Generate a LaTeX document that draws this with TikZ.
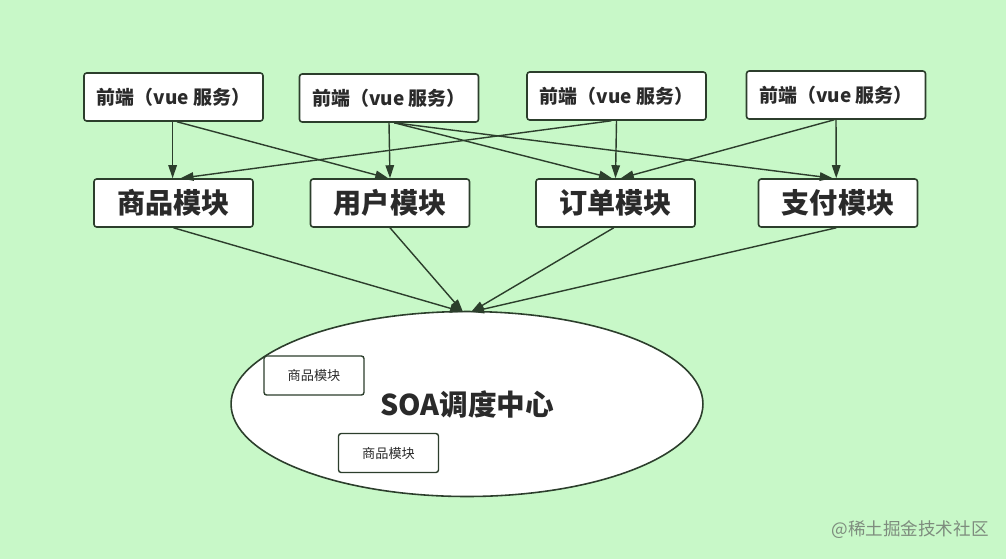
\documentclass[tikz,border=0pt]{standalone}
\usepackage{fontspec}
\setmainfont{Noto Sans CJK SC}
\usepackage{tikz}
\usetikzlibrary{positioning,arrows.meta,calc,shapes.geometric}

\definecolor{bg_green}{HTML}{C8F8C8}
\definecolor{line_dark}{HTML}{2C3E2C}
\definecolor{text_dark}{HTML}{2A2A2A}
\definecolor{mark_gray}{HTML}{7E8C7E}

\begin{document}
\begin{tikzpicture}[x=0.02cm, y=-0.02cm,
		front_box/.style={draw=line_dark, line width=0.9pt, fill=white, rounded corners=1.5pt, minimum width=3.58cm, minimum height=0.96cm, inner sep=0pt, text=text_dark, font=\fontsize{10.8}{12}\selectfont\bfseries},
		module_box/.style={draw=line_dark, line width=0.9pt, fill=white, rounded corners=1.5pt, minimum width=3.18cm, minimum height=0.96cm, inner sep=0pt, text=text_dark, font=\fontsize{16}{19}\selectfont\bfseries},
		small_box/.style={draw=line_dark, line width=0.8pt, fill=white, rounded corners=1.5pt, minimum width=2.0cm, minimum height=0.78cm, inner sep=0pt, text=text_dark, font=\fontsize{7.5}{9}\selectfont},
		soa_shape/.style={ellipse, draw=line_dark, line width=0.9pt, fill=white, minimum width=9.44cm, minimum height=3.7cm, inner sep=0pt, text=text_dark, font=\fontsize{16.3}{19}\selectfont\bfseries},
		link_arrow/.style={draw=line_dark, line width=0.8pt, -{Triangle[length=2.6mm, width=1.7mm]}}
		]
		
		\fill[bg_green] (0,0) rectangle (1006,559);
		\useasboundingbox (0,0) rectangle (1006,559);
		
		% front ends
		\node[front_box] (fe_a) at (173.5,97) {前端（vue 服务）};
		\node[front_box] (fe_b) at (389,98) {前端（vue 服务）};
		\node[front_box] (fe_c) at (616.5,96) {前端（vue 服务）};
		\node[front_box] (fe_d) at (836,95) {前端（vue 服务）};
		
		% modules
		\node[module_box] (mod_goods) at (173.5,203) {商品模块};
		\node[module_box] (mod_user) at (390,203) {用户模块};
		\node[module_box] (mod_order) at (615.5,203) {订单模块};
		\node[module_box] (mod_pay) at (838,203) {支付模块};
		
		% scheduling centre
		\node[soa_shape] (soa) at (467,404) {\raisebox{-5pt}{SOA调度中心}};
		\node[small_box] (inner_a) at (314,375.5) {商品模块};
		\node[small_box] (inner_b) at (388.5,453) {商品模块};
		
		\coordinate (hit_l) at (463,312); \coordinate (hit_r) at (471,312);
		
		\draw[link_arrow] ([xshift=-0.5pt]fe_a.south) -- ([xshift=-0.5pt]mod_goods.north);
		\draw[link_arrow] ([xshift=2pt]fe_a.south) -- ([xshift=-1pt]mod_user.north);
		\draw[link_arrow] (fe_b.south) -- (mod_user.north);
		\draw[link_arrow] ([xshift=3pt]fe_b.south) -- ([xshift=-2pt]mod_order.north);
		\draw[link_arrow] ([xshift=3pt]fe_b.south) -- ([xshift=-3pt]mod_pay.north);
		\draw[link_arrow] ([xshift=-3pt]fe_c.south) -- ([xshift=4pt]mod_goods.north);
		\draw[link_arrow] (fe_c.south) -- (mod_order.north);
		\draw[link_arrow] ([xshift=-1pt]fe_d.south) -- ([xshift=3pt]mod_order.north);
		\draw[link_arrow] (fe_d.south) -- ([xshift=-1pt]mod_pay.north);
		
		\foreach \src in {mod_goods, mod_user} \draw[link_arrow] (\src.south) -- (hit_l);
		\foreach \src in {mod_order, mod_pay} \draw[link_arrow] ([xshift=-1pt]\src.south) -- (hit_r);
		
		\node[text=mark_gray, font=\fontsize{10}{11}\selectfont] (mark) at (910,530) {@稀土掘金技术社区};
	\end{tikzpicture}
\end{document}
